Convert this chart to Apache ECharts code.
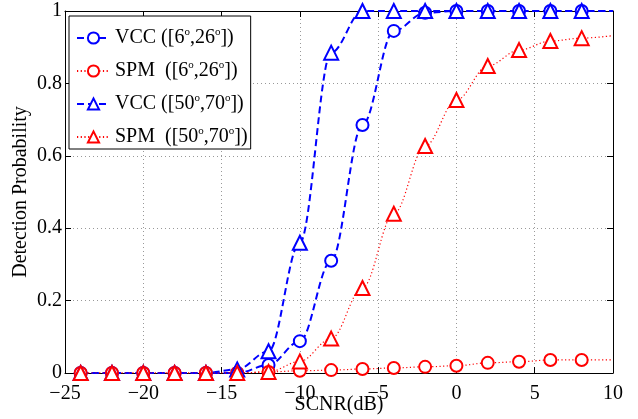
<!DOCTYPE html>
<html>
<head>
<meta charset="utf-8">
<script src="https://cdn.jsdelivr.net/npm/echarts@6/dist/echarts.min.js"></script>
<style>
  html, body { margin: 0; padding: 0; background: #fff; }
  #chart { width: 638px; height: 419px; }
</style>
</head>
<body>
<div id="chart"></div>
<script>
// SCNR values where the markers sit (dB)
const scnr = [-24, -22, -20, -18, -16, -14, -12, -10, -8, -6, -4, -2, 0, 2, 4, 6, 8]
// where the curves end on the right (no marker there)
const lineEnd = 10

const vcc6 = [0, 0, 0, 0, 0, 0, 0.022, 0.088, 0.31, 0.685, 0.945, 0.995, 1, 1, 1, 1, 1]
const spm6 = [0, 0, 0, 0, 0, 0, 0.003, 0.006, 0.008, 0.011, 0.014, 0.017, 0.02, 0.028, 0.031, 0.036, 0.036]
const vcc50 = [0, 0, 0, 0, 0, 0.01, 0.06, 0.36, 0.885, 1, 1, 1, 1, 1, 1, 1, 1]
const spm50 = [0, 0, 0, 0, 0, 0, 0.003, 0.032, 0.095, 0.235, 0.44, 0.627, 0.754, 0.848, 0.892, 0.917, 0.925]
// curve values at the right edge
const endValues = [1, 0.036, 1, 0.932]

const names = ['VCC ([6°,26°])', 'SPM  ([6°,26°])', 'VCC ([50°,70°])', 'SPM  ([50°,70°])']

const serif = "'Liberation Serif', 'Times New Roman', serif"

function pts (ys, endY) {
  let out = []
  for (let i = 0; i < scnr.length; i++) {
    out.push([scnr[i], ys[i]])
  }
  out.push({ value: [lineEnd, endY], symbol: 'none' })
  return out
}

function mkSeries (name, ys, endY, color, symbol, size, lineType, lineWidth) {
  return {
    name: name,
    type: 'line',
    data: pts(ys, endY),
    smooth: 0.35,
    smoothMonotone: 'x',
    symbol: symbol,
    symbolSize: size,
    showSymbol: true,
    showAllSymbol: true,
    itemStyle: { color: '#fff', borderColor: color, borderWidth: 2, opacity: 1 },
    lineStyle: { color: color, width: lineWidth, type: lineType },
    emphasis: { disabled: true },
    animation: false
  }
}

const minus = v => String(v).replace('-', '\u2212')

let chart = echarts.init(document.getElementById('chart'))
chart.setOption({
  backgroundColor: '#fff',
  grid: { left: 65, right: 25, top: 11, bottom: 46, outerBoundsMode: 'none', containLabel: false },
  legend: {
    orient: 'vertical',
    left: 69,
    top: 16,
    padding: [11, 3, 1, 7],
    itemGap: 11,
    itemWidth: 33,
    itemHeight: 14,
    backgroundColor: '#fff',
    borderColor: '#000',
    borderWidth: 1,
    borderRadius: 0,
    selectedMode: false,
    data: names,
    formatter: function (n) {
      return n.replace(/°/g, '{sup|o}')
    },
    textStyle: {
      fontFamily: serif,
      fontSize: 20,
      lineHeight: 22,
      color: '#000',
      rich: {
        sup: { fontFamily: serif, fontSize: 11, lineHeight: 22, verticalAlign: 'top', padding: [0, 0, 11, 0], color: '#000' }
      }
    }
  },
  xAxis: [{
    type: 'value',
    min: -25,
    max: 10,
    interval: 5,
    name: 'SCNR(dB)',
    nameLocation: 'middle',
    nameGap: 22,
    nameMoveOverlap: false,
    nameTextStyle: { fontFamily: serif, fontSize: 20, color: '#000' },
    axisLine: { onZero: false, lineStyle: { color: '#000', width: 1 } },
    axisTick: { inside: true, length: 6, lineStyle: { color: '#000' } },
    axisLabel: { fontFamily: serif, fontSize: 20, color: '#000', margin: 11, formatter: minus },
    splitLine: { show: true, lineStyle: { color: '#999', type: [1, 3], width: 1 } }
  }, {
    type: 'value',
    position: 'top',
    min: -25,
    max: 10,
    interval: 5,
    axisLine: { onZero: false, lineStyle: { color: '#000', width: 1 } },
    axisTick: { inside: true, length: 6, lineStyle: { color: '#000' } },
    axisLabel: { show: false },
    splitLine: { show: false }
  }],
  yAxis: [{
    type: 'value',
    min: 0,
    max: 1,
    interval: 0.2,
    name: 'Detection Probability',
    nameLocation: 'middle',
    nameGap: 34,
    nameMoveOverlap: false,
    nameTextStyle: { fontFamily: serif, fontSize: 20, color: '#000' },
    axisLine: { show: true, onZero: false, lineStyle: { color: '#000', width: 1 } },
    axisTick: { show: true, inside: true, length: 6, lineStyle: { color: '#000' } },
    axisLabel: { fontFamily: serif, fontSize: 20, color: '#000', margin: 3 },
    splitLine: { show: true, lineStyle: { color: '#999', type: [1, 3], width: 1 } }
  }, {
    type: 'value',
    position: 'right',
    min: 0,
    max: 1,
    interval: 0.2,
    axisLine: { show: true, onZero: false, lineStyle: { color: '#000', width: 1 } },
    axisTick: { show: true, inside: true, length: 6, lineStyle: { color: '#000' } },
    axisLabel: { show: false },
    splitLine: { show: false }
  }],
  series: [
    mkSeries(names[0], vcc6, endValues[0], '#0000ff', 'circle', 12, [7, 4], 2),
    mkSeries(names[1], spm6, endValues[1], '#ff0000', 'circle', 12, [1.2, 2.5], 1.2),
    mkSeries(names[2], vcc50, endValues[2], '#0000ff', 'triangle', 14, [7, 4], 2),
    mkSeries(names[3], spm50, endValues[3], '#ff0000', 'triangle', 14, [1.2, 2.5], 1.2)
  ]
})
</script>
</body>
</html>
